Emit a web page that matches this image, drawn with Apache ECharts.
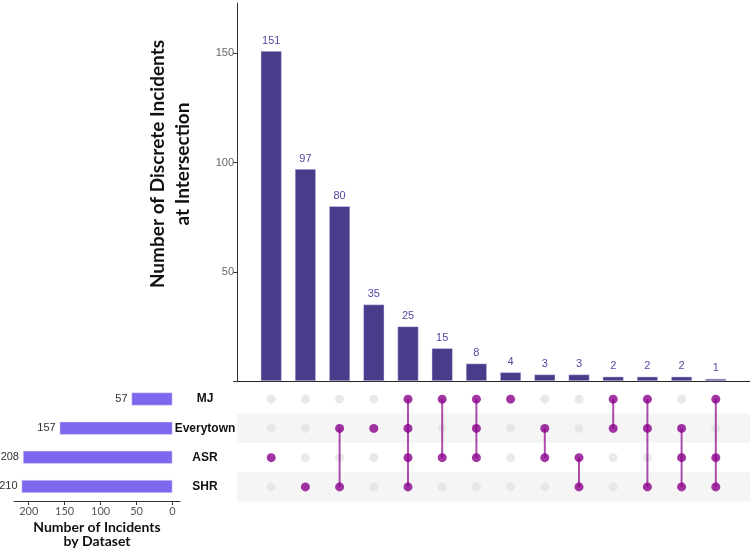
<!DOCTYPE html>
<html>
<head>
<meta charset="utf-8">
<script src="https://cdn.jsdelivr.net/npm/echarts@6/dist/echarts.min.js"></script>
<style>
  html, body { margin: 0; padding: 0; background: #fff; }
  #main { width: 750px; height: 549px; }
</style>
</head>
<body>
<div id="main"></div>
<script>
// sets, top row first
var setNames = ['MJ', 'Everytown', 'ASR', 'SHR'];
var setSizes = [57, 157, 208, 210];

// intersections, in drawing order left to right
var intersectionCounts = [151, 97, 80, 35, 25, 15, 8, 4, 3, 3, 2, 2, 2, 1];
var intersectionSets = [
  ['ASR'],
  ['SHR'],
  ['Everytown', 'SHR'],
  ['Everytown'],
  ['MJ', 'Everytown', 'ASR', 'SHR'],
  ['MJ', 'ASR'],
  ['MJ', 'Everytown', 'ASR'],
  ['MJ'],
  ['Everytown', 'ASR'],
  ['ASR', 'SHR'],
  ['MJ', 'Everytown'],
  ['MJ', 'Everytown', 'SHR'],
  ['Everytown', 'ASR', 'SHR'],
  ['MJ', 'ASR', 'SHR']
];

var countTicks = [0, 50, 100, 150];
var countLabels = [50, 100, 150];
var sizeTicks = [0, 50, 100, 150, 200];

// category rows bottom-up for the matrix axis
var rows = setNames.slice().reverse();

var barData = intersectionCounts.map(function (v, i) { return [i + 1, v]; });
var sizeData = rows.map(function (n) { return setSizes[setNames.indexOf(n)]; });

var offDots = [], onDots = [], links = [];
intersectionSets.forEach(function (members, i) {
  var idx = [];
  rows.forEach(function (n, r) {
    if (members.indexOf(n) >= 0) { onDots.push([i + 1, r]); idx.push(r); }
    else offDots.push([i + 1, r]);
  });
  if (idx.length > 1) links.push([i + 1, Math.min.apply(null, idx), Math.max.apply(null, idx)]);
});

var chart = echarts.init(document.getElementById('main'));
var option = {
  animation: false,
  grid: [
    { left: 237, top: 3, width: 513, height: 378 },
    { left: 237, top: 384.5, width: 513, height: 117 },
    { left: 14, top: 384.5, width: 166, height: 117 }
  ],
  xAxis: [
    {
      type: 'value', gridIndex: 0, min: 0, max: 15,
      axisLine: { show: true, lineStyle: { color: '#222', width: 1.2 } },
      axisTick: { show: false }, axisLabel: { show: false }, splitLine: { show: false }
    },
    { type: 'value', gridIndex: 1, min: 0, max: 15, show: false },
    {
      type: 'value', gridIndex: 2, inverse: true, min: -10.5, max: 220.5,
      axisLine: { show: true, onZero: false, lineStyle: { color: '#333' } },
      axisTick: { show: true, length: 4, customValues: sizeTicks, lineStyle: { color: '#333' } },
      axisLabel: { customValues: sizeTicks, color: '#555', fontSize: 11, fontFamily: 'Lato', margin: 5 },
      splitLine: { show: false },
      name: 'Number of Incidents\nby Dataset', nameLocation: 'middle', nameGap: 19,
      nameTextStyle: { color: '#111', fontSize: 14, fontFamily: 'Lato', fontWeight: 'bold', lineHeight: 14 }
    }
  ],
  yAxis: [
    {
      type: 'value', gridIndex: 0, min: 0, max: 173,
      axisLine: { show: true, lineStyle: { color: '#333' } },
      axisTick: { show: true, length: 4, customValues: countTicks, lineStyle: { color: '#333' } },
      axisLabel: { customValues: countLabels, color: '#666', fontSize: 11, fontFamily: 'Liberation Sans', margin: 3 },
      splitLine: { show: false }
    },
    {
      type: 'category', gridIndex: 1, data: rows,
      axisLine: { show: false }, axisTick: { show: false },
      axisLabel: {
        align: 'center', margin: 32, color: '#111', fontSize: 12, fontWeight: 'bold',
        fontFamily: 'Liberation Sans'
      },
      splitArea: { show: true, areaStyle: { color: ['#f5f5f5', 'rgba(255,255,255,0)'] } }
    },
    { type: 'category', gridIndex: 2, data: rows, show: false }
  ],
  graphic: [
    {
      type: 'text', x: 170, y: 164, rotation: Math.PI / 2,
      style: {
        text: 'Number of Discrete Incidents\nat Intersection',
        fontSize: 19, fontFamily: 'Lato', fontWeight: 'bold', fill: '#111',
        align: 'center', verticalAlign: 'middle', lineHeight: 25
      }
    }
  ],
  series: [
    {
      type: 'bar', xAxisIndex: 0, yAxisIndex: 0, data: barData, barWidth: 21,
      itemStyle: { color: '#483d8b', borderColor: 'rgba(220,216,240,0.8)', borderWidth: 0.6 },
      label: { show: true, position: 'top', distance: 5, color: '#5548a2', fontSize: 11, fontFamily: 'Liberation Sans',
        formatter: function (p) { return p.value[1]; } }
    },
    {
      type: 'scatter', xAxisIndex: 1, yAxisIndex: 1, data: offDots, symbolSize: 9,
      itemStyle: { color: '#e4e4e4' }, z: 2
    },
    {
      type: 'custom', xAxisIndex: 1, yAxisIndex: 1, data: links, z: 3,
      renderItem: function (params, api) {
        var a = api.coord([api.value(0), api.value(1)]);
        var b = api.coord([api.value(0), api.value(2)]);
        return {
          type: 'line',
          shape: { x1: a[0], y1: a[1], x2: b[0], y2: b[1] },
          style: { stroke: 'rgba(139,0,139,0.7)', lineWidth: 2 }
        };
      }
    },
    {
      type: 'scatter', xAxisIndex: 1, yAxisIndex: 1, data: onDots, symbolSize: 9,
      itemStyle: { color: '#8b008b' }, z: 4
    },
    {
      type: 'bar', xAxisIndex: 2, yAxisIndex: 2, data: sizeData, barWidth: 13,
      itemStyle: { color: '#7b68ee', borderColor: 'rgba(230,226,250,0.8)', borderWidth: 0.6 },
      label: { show: true, position: 'left', distance: 4, color: '#333', fontSize: 11, fontFamily: 'Liberation Sans' }
    }
  ]
};
chart.setOption(option);
</script>
</body>
</html>
